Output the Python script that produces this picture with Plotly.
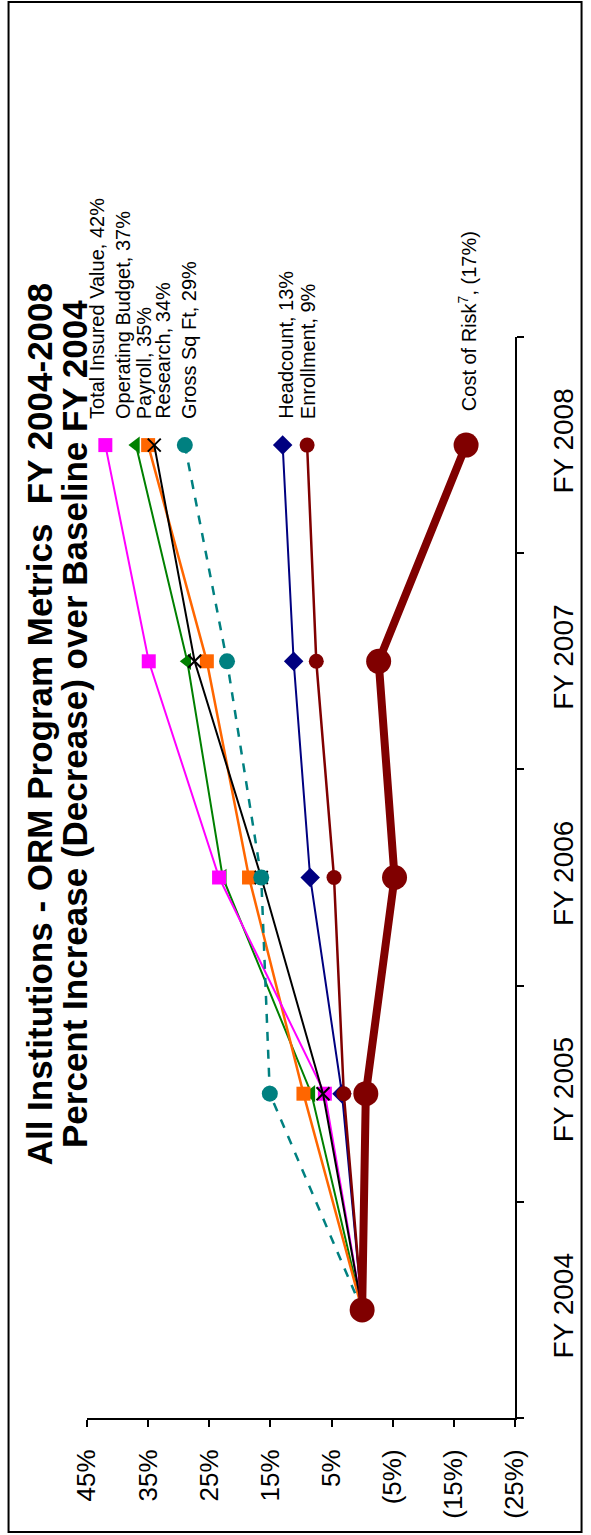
import plotly.graph_objects as go

years = ["FY 2004", "FY 2005", "FY 2006", "FY 2007", "FY 2008"]

total_insured = [0, 6.1, 23.4, 34.9, 42]
operating_budget = [0, 8.3, 22.8, 28.6, 37]
payroll = [0, 9.6, 18.5, 25.4, 35]
research = [0, 6.4, 16.5, 27.4, 34]
gross_sq_ft = [0, 15.1, 16.5, 22.1, 29]
headcount = [0, 3.3, 8.5, 11.2, 13]
enrollment = [0, 3.0, 4.6, 7.5, 9]
cost_of_risk = [0, -0.6, -5.3, -2.7, -17]

value_ticks = [45, 35, 25, 15, 5, -5, -15, -25]
value_tick_labels = ["45%", "35%", "25%", "15%", "5%", "(5%)", "(15%)", "(25%)"]

title_line1 = "All Institutions - ORM Program Metrics  FY 2004-2008"
title_line2 = "Percent Increase (Decrease) over Baseline FY 2004"

FONT = "Liberation Sans, Arial, sans-serif"

# (name, label name, values, color, symbol, marker size, line width, dash, label xshift, label yshift)
series = [
    ("Operating Budget", "Operating Budget", operating_budget, "#008000", "triangle-left", 15, 2, "solid", -13, 24),
    ("Payroll", "Payroll", payroll, "#FF6600", "square", 14, 2.5, "solid", -4, 24),
    ("Total Insured Value", "Total Insured Value", total_insured, "#FF00FF", "square", 14, 2, "solid", -9, 24),
    ("Research", "Research", research, "#000000", "x-thin", 13, 2, "solid", 8, 24),
    ("Gross Sq Ft", "Gross Sq Ft", gross_sq_ft, "#008080", "circle", 16, 2.5, "dash", 4, 24),
    ("Headcount", "Headcount", headcount, "#000080", "diamond", 15, 2, "solid", 3, 24),
    ("Enrollment", "Enrollment", enrollment, "#800000", "circle", 15, 2.5, "solid", 1, 24),
    ("Cost of Risk", "Cost of Risk<sup>7</sup>", cost_of_risk, "#800000", "circle", 25, 8, "solid", 1, 32),
]


def fmt(v):
    r = round(v)
    return f"({abs(r)}%)" if r < 0 else f"{r}%"


fig = go.Figure()
annotations = []
for name, lab, vals, color, sym, msize, lw, dash, xs, ys in series:
    marker = dict(symbol=sym, size=msize, color=color)
    if sym == "x-thin":
        marker["line"] = dict(color=color, width=2)
    fig.add_trace(go.Scatter(
        x=vals, y=years, mode="lines+markers", name=name,
        line=dict(color=color, width=lw, dash=dash),
        marker=marker, showlegend=False,
    ))
    annotations.append(dict(
        x=vals[-1], y=years[-1], xref="x", yref="y",
        text=f"{lab}, {fmt(vals[-1])}", showarrow=False, textangle=-90,
        xanchor="center", yanchor="bottom", xshift=xs, yshift=ys,
        font=dict(family=FONT, size=20, color="black"),
    ))

for xp, txt in [(-0.109, title_line1), (-0.028, title_line2)]:
    annotations.append(dict(
        x=xp, y=0.642, xref="paper", yref="paper",
        text=f"<b>{txt}</b>", showarrow=False, textangle=-90,
        xanchor="center", yanchor="middle",
        font=dict(family=FONT, size=35, color="black"),
    ))

fig.update_layout(
    width=591, height=1535,
    margin=dict(l=87, r=73, t=337, b=117),
    paper_bgcolor="white", plot_bgcolor="white",
    annotations=annotations,
    shapes=[dict(type="rect", xref="paper", yref="paper",
                 x0=-0.1833, x1=1.1555, y0=-0.1055, y1=1.3099,
                 line=dict(color="black", width=2), fillcolor="rgba(0,0,0,0)")],
)
fig.update_xaxes(
    range=[45, -25], tickvals=value_ticks, ticktext=value_tick_labels,
    tickangle=-90, ticks="outside", ticklen=7, tickwidth=2, tickcolor="black",
    showline=True, linecolor="black", linewidth=2, showgrid=False, zeroline=False,
    tickfont=dict(family=FONT, size=26, color="black"), ticklabelstandoff=12,
)
fig.update_yaxes(
    type="category", categoryorder="array", categoryarray=years,
    range=[-0.5, 4.5], side="right", tickson="boundaries",
    tickangle=-90, ticks="outside", ticklen=7, tickwidth=2, tickcolor="black",
    showline=True, linecolor="black", linewidth=2, showgrid=False, zeroline=False,
    tickfont=dict(family=FONT, size=28, color="black"), ticklabelstandoff=22,
)

fig.write_html("out.html", config={"displayModeBar": False},
               post_script="document.body.style.margin='0';")
